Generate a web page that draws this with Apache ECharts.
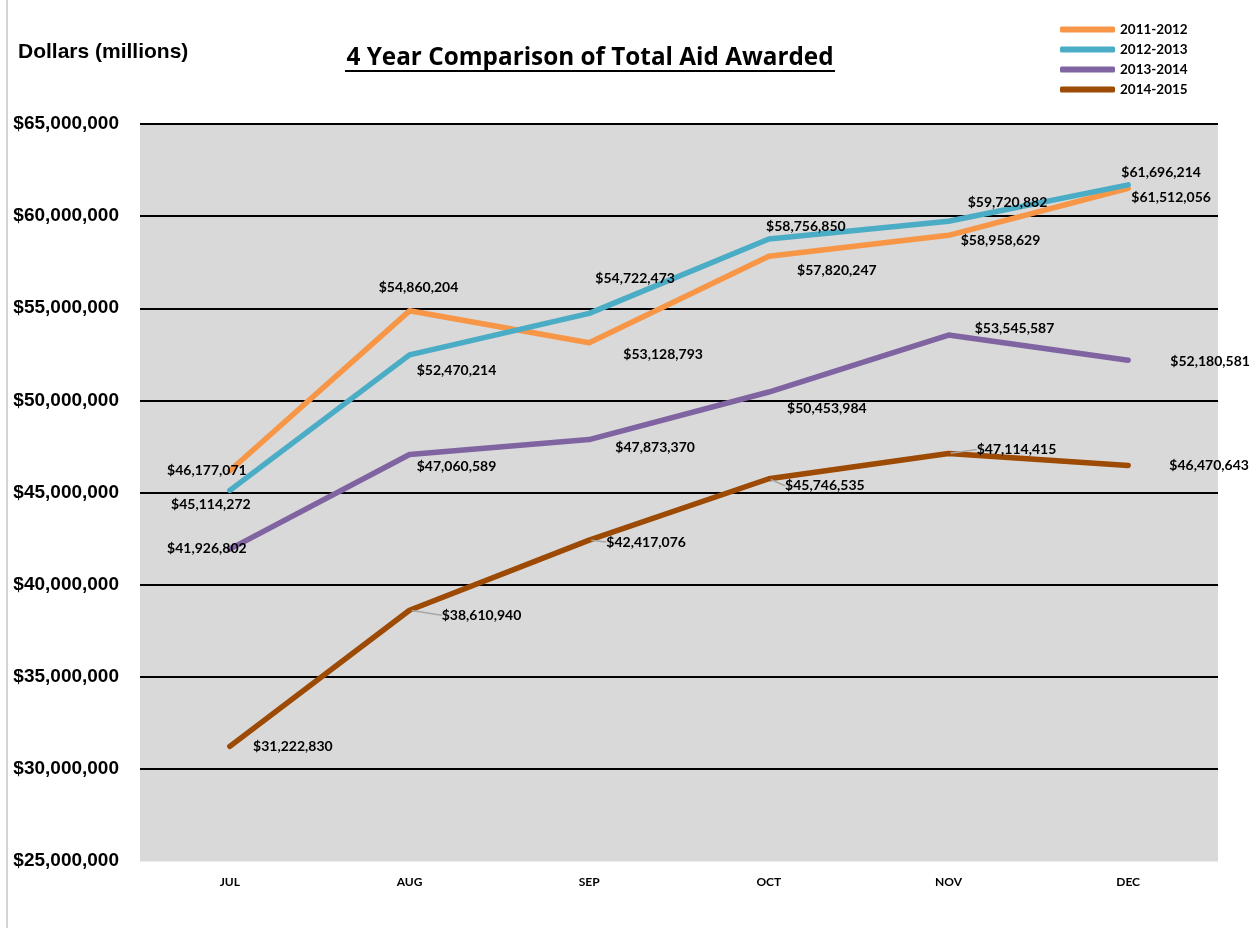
<!DOCTYPE html>
<html>
<head>
<meta charset="utf-8">
<script src="https://cdn.jsdelivr.net/npm/echarts@6/dist/echarts.min.js"></script>
<style>
html, body { margin: 0; padding: 0; background: #fff; }
#main { width: 1252px; height: 928px; }
</style>
</head>
<body>
<div id="main"></div>
<script>
var months = ['JUL', 'AUG', 'SEP', 'OCT', 'NOV', 'DEC'];
var seriesNames = ['2011-2012', '2012-2013', '2013-2014', '2014-2015'];
var aid2011 = [46177071, 54860204, 53128793, 57820247, 58958629, 61512056];
var aid2012 = [45114272, 52470214, 54722473, 58756850, 59720882, 61696214];
var aid2013 = [41926802, 47060589, 47873370, 50453984, 53545587, 52180581];
var aid2014 = [31222830, 38610940, 42417076, 45746535, 47114415, 46470643];

// where each value label sits, relative to its point
var labelOffsets = [
    [[-23, 0], [9, -23], [74, 12], [68, 14], [52, 5], [43, 9]],
    [[-19, 14], [47, 16], [46, -35], [37, -13], [59, -19], [33, -12]],
    [[-23, -1], [47, 12], [66, 8], [58, 16], [66, -7], [82, 1]],
    [[63, 0], [72, 5], [57, 2], [56, 7], [68, -4], [81, 0]]
];
var colors = ['#F79646', '#4BACC6', '#8064A2', '#9C4A04'];

function money(v) {
    return '$' + String(v).replace(/\B(?=(\d{3})+(?!\d))/g, ',');
}

var myChart = echarts.init(document.getElementById('main'));

function makeSeries(idx, values) {
    var offs = labelOffsets[idx];
    var leader = idx === 3;
    var s = {
        name: seriesNames[idx],
        type: 'line',
        data: values.map(function(v, i) {
            if (leader) {
                // no leader on the two end points
                var ends = i === 0 || i === values.length - 1;
                return { value: v, labelLine: { show: !ends } };
            }
            return { value: v, label: { offset: offs[i] } };
        }),
        symbol: 'circle',
        symbolSize: 4,
        itemStyle: { color: colors[idx] },
        lineStyle: { color: colors[idx], width: 5.5, cap: 'round', join: 'round' },
        label: {
            show: true,
            position: 'inside',
            formatter: function(p) { return money(p.value); },
            fontFamily: 'Lato',
            fontWeight: 'bold',
            fontSize: 14,
            color: '#000'
        },
        emphasis: { disabled: true },
        animation: false,
        z: 2 + idx
    };
    if (leader) {
        s.labelLayout = function(p) {
            return { dx: offs[p.dataIndex][0], dy: offs[p.dataIndex][1] };
        };
        s.labelLine = {
            show: true,
            lineStyle: { color: '#a6a6a6', width: 1.5 }
        };
    }
    return s;
}

var option = {
    backgroundColor: '#fff',
    animation: false,
    title: [{
        text: '4 Year Comparison of Total Aid Awarded',
        left: 585,
        top: 41,
        textAlign: 'center',
        textStyle: { fontFamily: 'Open Sans', fontWeight: 'bold', fontSize: 24.3, color: '#000' }
    }, {
        text: 'Dollars (millions)',
        left: 13,
        top: 37,
        textStyle: { fontFamily: 'Liberation Sans', fontWeight: 'bold', fontSize: 21, color: '#000' }
    }],
    legend: {
        data: seriesNames,
        orient: 'vertical',
        left: 1055,
        top: 17,
        itemWidth: 55,
        itemHeight: 6,
        itemGap: 5,
        icon: 'roundRect',
        selectedMode: false,
        textStyle: { fontFamily: 'Lato', fontWeight: 'bold', fontSize: 13.5, color: '#000', lineHeight: 15 }
    },
    graphic: [{
        type: 'line',
        shape: { x1: 345, y1: 71, x2: 835, y2: 71 },
        style: { stroke: '#000', lineWidth: 2 }
    }, {
        type: 'line',
        shape: { x1: 7, y1: 0, x2: 7, y2: 928 },
        style: { stroke: '#d4d4d4', lineWidth: 2 }
    }],
    grid: {
        left: 140,
        right: 34,
        top: 124,
        bottom: 67,
        show: true,
        backgroundColor: '#d9d9d9',
        borderWidth: 0
    },
    xAxis: {
        type: 'category',
        data: months,
        boundaryGap: true,
        axisLine: { show: true, lineStyle: { color: '#ececec', width: 1 } },
        axisTick: { show: false },
        axisLabel: { fontFamily: 'Lato', fontWeight: 'bold', fontSize: 12, color: '#000', margin: 15 }
    },
    yAxis: {
        type: 'value',
        min: 25000000,
        max: 65000000,
        interval: 5000000,
        axisLine: { show: false },
        axisTick: { show: false },
        axisLabel: {
            formatter: money,
            fontFamily: 'Liberation Sans',
            fontWeight: 'bold',
            fontSize: 19,
            color: '#000',
            margin: 21
        },
        splitLine: { show: true, showMinLine: false, lineStyle: { color: '#000', width: 2 } }
    },
    series: [
        makeSeries(0, aid2011),
        makeSeries(1, aid2012),
        makeSeries(2, aid2013),
        makeSeries(3, aid2014)
    ]
};
myChart.setOption(option);
</script>
</body>
</html>
